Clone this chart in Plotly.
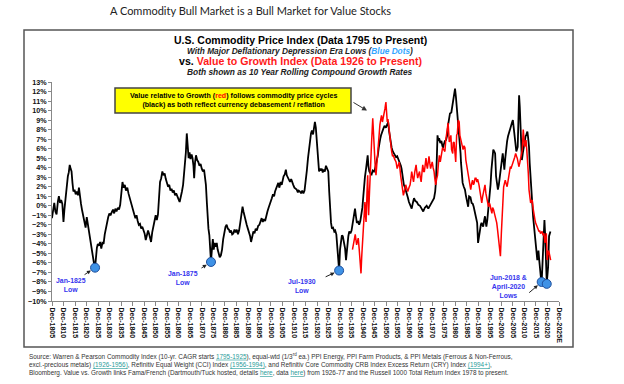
import plotly.graph_objects as go

# ---------------- data ----------------
commodity_years = [
    1805.9, 1806.4, 1806.9, 1807.4, 1807.9, 1808.5, 1808.9, 1809.4, 1809.9, 1810.4, 1810.9, 1811.3, 1811.8,
    1812.3, 1812.8, 1813.2, 1813.6, 1814.0, 1814.4, 1814.8, 1815.2, 1815.7, 1816.2, 1816.7, 1817.2, 1817.6,
    1818.0, 1818.5, 1819.0, 1819.5, 1820.0, 1820.5, 1821.0, 1821.5, 1821.9, 1822.4, 1822.9, 1823.3, 1823.7,
    1824.1, 1824.6, 1825.0, 1825.4, 1825.8, 1826.3, 1826.8, 1827.3, 1827.8, 1828.3, 1828.8, 1829.3, 1829.8,
    1830.3, 1830.8, 1831.3, 1831.8, 1832.4, 1832.9, 1833.4, 1833.9, 1834.5, 1835.0, 1835.5, 1836.0, 1836.5,
    1837.0, 1837.5, 1838.0, 1838.6, 1839.1, 1839.6, 1840.1, 1840.6, 1841.1, 1841.6, 1842.1, 1842.6, 1843.1,
    1843.6, 1844.1, 1844.6, 1845.1, 1845.6, 1846.1, 1846.6, 1847.1, 1847.6, 1848.1, 1848.6, 1848.9, 1849.4,
    1849.9, 1850.4, 1850.9, 1851.4, 1851.9, 1852.4, 1852.8, 1853.3, 1853.8, 1854.3, 1854.8, 1855.3, 1855.8,
    1856.3, 1856.8, 1857.3, 1857.8, 1858.3, 1858.8, 1859.3, 1859.8, 1860.3, 1860.8, 1861.3, 1861.8, 1862.3,
    1862.8, 1863.2, 1863.6, 1864.0, 1864.4, 1864.8, 1865.2, 1865.6, 1866.0, 1866.5, 1866.9, 1867.3, 1867.6,
    1868.0, 1868.4, 1868.9, 1869.4, 1869.9, 1870.4, 1870.9, 1871.4, 1871.9, 1872.3, 1872.7, 1873.1, 1873.4,
    1873.8, 1874.2, 1874.6, 1874.9, 1875.3, 1875.7, 1876.1, 1876.5, 1876.9, 1877.4, 1877.8, 1878.2, 1878.7,
    1879.2, 1879.7, 1880.2, 1880.7, 1881.2, 1881.7, 1882.2, 1882.7, 1883.1, 1883.6, 1884.1, 1884.6, 1885.1,
    1885.6, 1886.1, 1886.6, 1887.1, 1887.6, 1888.1, 1888.6, 1889.0, 1889.4, 1889.9, 1890.4, 1890.9, 1891.4,
    1891.9, 1892.3, 1892.8, 1893.3, 1893.8, 1894.3, 1894.8, 1895.4, 1895.9, 1896.4, 1896.9, 1897.4, 1897.9,
    1898.4, 1898.9, 1899.4, 1899.9, 1900.4, 1900.9, 1901.3, 1901.8, 1902.3, 1902.7, 1903.2, 1903.7, 1904.1,
    1904.6, 1905.1, 1905.6, 1906.0, 1906.4, 1906.9, 1907.4, 1907.8, 1908.2, 1908.7, 1909.2, 1909.7, 1910.2,
    1910.6, 1911.1, 1911.6, 1912.1, 1912.6, 1913.0, 1913.5, 1914.0, 1914.5, 1915.0, 1915.5, 1916.0, 1916.5,
    1917.0, 1917.4, 1917.9, 1918.3, 1918.7, 1919.2, 1919.6, 1920.0, 1920.4, 1920.8, 1921.1, 1921.4, 1921.8,
    1922.2, 1922.6, 1923.0, 1923.4, 1923.8, 1924.3, 1924.8, 1925.3, 1925.8, 1926.2, 1926.6, 1927.0, 1927.4,
    1927.9, 1928.4, 1928.8, 1929.3, 1929.7, 1930.1, 1930.5, 1930.9, 1931.3, 1931.7, 1932.1, 1932.6, 1933.1,
    1933.5, 1934.0, 1934.5, 1934.9, 1935.4, 1935.9, 1936.3, 1936.6, 1937.0, 1937.4, 1937.8, 1938.2, 1938.7,
    1939.2, 1939.7, 1940.2, 1940.6, 1941.0, 1941.3, 1941.7, 1942.2, 1942.6, 1942.9, 1943.2, 1943.6, 1944.1,
    1944.6, 1945.1, 1945.6, 1946.0, 1946.5, 1946.9, 1947.3, 1947.7, 1948.0, 1948.4, 1948.7, 1949.2, 1949.7,
    1950.2, 1950.8, 1951.3, 1951.8, 1952.2, 1952.6, 1953.0, 1953.3, 1953.8, 1954.2, 1954.7, 1955.2, 1955.7,
    1956.2, 1956.6, 1956.9, 1957.3, 1957.6, 1958.1, 1958.6, 1959.1, 1959.5, 1959.8, 1960.3, 1960.8, 1961.4,
    1962.0, 1962.5, 1963.0, 1963.6, 1964.2, 1964.9, 1965.6, 1966.3, 1967.0, 1967.7, 1968.5, 1969.2, 1969.9,
    1970.6, 1971.2, 1971.7, 1972.2, 1972.5, 1972.9, 1973.2, 1973.6, 1973.9, 1974.4, 1974.9, 1975.3, 1975.6,
    1976.0, 1976.4, 1976.9, 1977.4, 1977.8, 1978.2, 1978.6, 1979.2, 1979.8, 1980.3, 1980.8, 1981.2, 1981.5,
    1981.9, 1982.2, 1982.6, 1982.9, 1983.2, 1983.4, 1983.8, 1984.1, 1984.6, 1985.1, 1985.5, 1985.8, 1986.2,
    1986.5, 1986.9, 1987.5, 1988.0, 1988.5, 1988.9, 1989.3, 1989.6, 1990.0, 1990.4, 1990.8, 1991.2, 1991.6,
    1992.0, 1992.3, 1992.7, 1993.0, 1993.4, 1993.8, 1994.1, 1994.4, 1994.8, 1995.1, 1995.5, 1995.8, 1996.2,
    1996.6, 1997.0, 1997.4, 1997.8, 1998.2, 1998.6, 1999.0, 1999.4, 1999.8, 2000.1, 2000.5, 2000.8, 2001.2,
    2001.5, 2001.9, 2002.2, 2002.6, 2003.0, 2003.4, 2003.8, 2004.1, 2004.5, 2004.9, 2005.2, 2005.6, 2005.9,
    2006.2, 2006.5, 2006.9, 2007.4, 2008.0, 2008.3, 2008.6, 2008.9, 2009.2, 2009.5, 2009.8, 2010.2, 2010.6,
    2011.0, 2011.4, 2011.8, 2012.2, 2012.5, 2012.9, 2013.2, 2013.6, 2014.0, 2014.3, 2014.7, 2015.1, 2015.5,
    2015.8, 2016.1, 2016.5, 2016.8, 2017.0, 2017.3, 2017.6, 2018.0, 2018.4, 2018.7, 2019.0, 2019.3, 2019.6,
    2019.9, 2020.2, 2020.4, 2020.6, 2020.9, 2021.2, 2021.6, 2022.0, 2022.2,
]
commodity_cagr = [
    -1.3, -0.4, 0.3, -0.6, -0.9, 0.5, 1.0, 0.3, 0.6, 0.2, -1.7, -0.4, 0.9,
    2.2, 3.1, 3.5, 4.3, 3.9, 3.6, 2.4, 1.5, 1.7, 1.2, 1.5, 1.1, 1.9,
    0.9, 0.2, -0.5, -1.1, -1.8, -2.3, -1.2, -2.0, -2.6, -3.6, -4.3, -5.0, -5.5,
    -6.0, -6.5, -5.2, -4.4, -4.0, -4.2, -3.8, -4.5, -3.9, -4.0, -3.0, -2.3, -1.8,
    -1.2, -0.8, -1.0, -0.7, -0.4, -0.8, -0.3, -0.6, -0.2, -0.4, 0.1, 1.3, 2.5,
    1.9, 2.2, 1.6, 1.9, 1.3, 0.8, 0.3, -0.2, -0.6, -0.9, -1.3, -1.0, -1.6,
    -2.0, -1.9, -2.4, -2.2, -2.6, -2.9, -3.6, -3.0, -2.6, -3.0, -3.5, -3.8, -2.8,
    -2.0, -1.6, -1.0, -1.5, -0.9, 0.6, 2.5, 2.9, 3.6, 3.2, 3.4, 2.8, 2.5,
    2.0, 2.2, 1.6, 1.8, 1.4, 1.6, 1.1, 1.3, 0.9, 0.7, 0.4, 1.2, 1.5,
    2.2, 3.2, 4.4, 5.6, 7.6, 6.2, 5.0, 5.6, 4.9, 5.4, 5.0, 4.2, 2.9,
    4.6, 5.3, 4.8, 4.6, 4.2, 4.4, 3.9, 3.6, 3.8, 3.2, 2.2, 0.4, -1.0,
    -2.4, -3.1, -4.8, -5.9, -4.6, -3.5, -4.6, -3.9, -4.3, -3.9, -4.6, -4.9, -5.4,
    -5.2, -4.6, -3.5, -2.6, -2.2, -2.0, -2.4, -2.5, -2.8, -2.6, -3.0, -2.9, -2.5,
    -2.8, -2.5, -3.0, -2.6, -1.8, -0.9, -0.1, -0.6, -1.1, -1.4, -2.0, -2.4, -2.7,
    -3.2, -3.8, -3.2, -2.7, -2.9, -2.4, -2.6, -2.1, -2.0, -1.6, -1.3, -1.7, -1.4,
    -1.6, -1.0, -0.6, -0.2, 0.1, 0.5, 0.8, 1.2, 1.0, 1.5, 1.9, 2.3, 2.4,
    1.9, 2.5, 2.2, 2.7, 3.1, 3.3, 3.8, 3.2, 3.0, 2.7, 2.5, 2.8, 2.3,
    2.2, 1.9, 1.8, 1.7, 1.4, 1.6, 1.5, 1.3, 1.6, 1.3, 1.6, 2.4, 3.7,
    5.0, 6.1, 6.8, 7.6, 7.9, 7.5, 8.2, 8.8, 8.2, 6.9, 5.0, 3.9, 3.6,
    3.9, 3.7, 3.9, 3.5, 3.8, 3.6, 4.2, 3.9, 3.6, 1.5, -0.6, -1.8, -2.4,
    -2.3, -2.7, -2.6, -3.0, -4.2, -5.3, -6.8, -4.6, -3.4, -3.1, -3.2, -3.8, -4.5,
    -5.7, -4.1, -3.2, -2.7, -2.9, -2.6, -2.0, -1.7, -0.9, -0.3, -1.1, -1.8, -1.6,
    -2.0, -1.6, -1.0, -0.2, 1.0, 2.2, 3.0, 3.9, 4.6, 5.3, 4.2, 3.6, 3.4,
    3.3, 3.7, 3.6, 3.8, 4.3, 4.8, 5.3, 6.1, 6.7, 7.1, 7.4, 7.9, 8.1,
    8.4, 8.2, 8.5, 8.8, 7.8, 7.1, 6.4, 6.1, 5.7, 5.5, 5.3, 5.1, 5.2,
    4.9, 4.7, 4.6, 4.2, 3.9, 3.0, 2.2, 1.9, 1.6, 1.5, 0.9, 0.4, 0.0,
    -0.3, 0.3, 0.8, 0.5, 0.4, 0.1, 0.0, -0.3, -0.6, -0.2, 0.0, -0.3, 0.0,
    0.4, 0.6, 0.8, 1.5, 2.5, 5.0, 7.4, 6.8, 7.1, 6.6, 6.8, 6.3, 6.1,
    6.5, 6.8, 6.9, 7.4, 8.5, 9.2, 9.7, 9.8, 10.8, 11.3, 12.3, 11.4, 10.6,
    9.6, 8.7, 7.5, 6.6, 5.5, 4.5, 3.3, 2.4, 2.0, 1.7, 1.1, 0.6, 0.2,
    -0.1, 1.0, 0.9, 0.3, 0.2, -0.1, -0.5, -0.8, -1.2, -1.8, -3.9, -3.1, -2.5,
    -2.0, -1.8, -2.0, -2.2, -1.6, -1.1, -1.7, -2.2, -1.5, -0.8, -0.2, 0.6, 2.2,
    3.8, 4.9, 5.9, 5.7, 5.5, 3.1, 2.3, 1.7, 2.2, 2.8, 3.4, 4.1, 4.9,
    5.5, 4.6, 3.8, 5.0, 6.2, 6.8, 7.3, 7.6, 8.0, 8.4, 8.7, 8.8, 9.0,
    8.4, 7.7, 6.8, 5.7, 6.2, 8.5, 11.6, 10.4, 9.0, 6.8, 4.8, 5.5, 6.2,
    6.8, 7.3, 7.5, 7.8, 7.2, 6.2, 4.5, 2.7, 1.2, -0.1, -1.2, -2.2, -3.2,
    -4.3, -5.0, -5.7, -5.2, -4.7, -5.6, -6.75, -7.4, -8.0, -6.6, -5.0, -3.0, -1.5,
    -3.0, -5.0, -6.8, -8.1, -7.3, -6.4, -3.2, -2.9, -2.7,
]

value_growth_years = [
    1936.3, 1936.9, 1937.5, 1938.1, 1938.8, 1939.2, 1939.6, 1940.0, 1940.3, 1940.6, 1941.0, 1941.4, 1941.7,
    1942.0, 1942.2, 1942.6, 1942.9, 1943.1, 1943.3, 1943.6, 1943.8, 1944.2, 1944.6, 1945.1, 1945.4, 1945.8,
    1946.1, 1946.5, 1947.0, 1947.5, 1947.9, 1948.2, 1948.6, 1948.9, 1949.3, 1949.7, 1950.1, 1950.4, 1950.8,
    1951.1, 1951.4, 1951.7, 1952.0, 1952.3, 1952.6, 1953.0, 1953.3, 1953.7, 1954.0, 1954.6, 1955.2, 1955.7,
    1956.1, 1956.6, 1957.2, 1957.8, 1958.1, 1958.4, 1958.9, 1959.4, 1959.9, 1960.3, 1960.8, 1961.3, 1961.7,
    1962.0, 1962.4, 1962.8, 1963.3, 1963.9, 1964.3, 1964.6, 1965.0, 1965.4, 1965.7, 1966.1, 1966.5, 1966.8,
    1967.2, 1967.5, 1967.9, 1968.2, 1968.5, 1968.8, 1969.2, 1969.5, 1969.9, 1970.2, 1970.6, 1970.9, 1971.3,
    1971.7, 1972.0, 1972.4, 1972.8, 1973.2, 1973.6, 1974.0, 1974.4, 1974.7, 1975.1, 1975.4, 1975.9, 1976.4,
    1976.8, 1977.1, 1977.4, 1977.8, 1978.3, 1978.6, 1979.0, 1979.3, 1979.8, 1980.0, 1980.4, 1980.8, 1981.1,
    1981.5, 1981.8, 1982.2, 1982.6, 1982.9, 1983.3, 1983.6, 1984.0, 1984.3, 1984.7, 1985.1, 1985.5, 1986.1,
    1986.5, 1986.9, 1987.2, 1987.6, 1988.0, 1988.4, 1988.8, 1989.1, 1989.5, 1989.9, 1990.3, 1990.6, 1991.2,
    1991.6, 1992.0, 1992.4, 1992.8, 1993.1, 1993.5, 1993.8, 1994.2, 1994.6, 1995.0, 1995.3, 1995.7, 1996.0,
    1996.4, 1996.8, 1997.1, 1997.5, 1997.9, 1998.2, 1998.6, 1998.9, 1999.2, 1999.4, 1999.8, 2000.1, 2000.5,
    2000.9, 2001.3, 2001.6, 2001.9, 2002.3, 2002.6, 2003.0, 2003.4, 2003.8, 2004.1, 2004.5, 2004.8, 2005.2,
    2005.6, 2006.0, 2006.3, 2006.7, 2007.1, 2007.5, 2007.8, 2008.2, 2008.5, 2008.9, 2009.2, 2009.6, 2010.0,
    2010.4, 2010.7, 2011.0, 2011.3, 2011.6, 2011.9, 2012.2, 2012.6, 2012.9, 2013.2, 2013.6, 2013.9, 2014.3,
    2014.7, 2015.1, 2015.5, 2015.8, 2016.2, 2016.5, 2016.9, 2017.2, 2017.5, 2017.9, 2018.2, 2018.6, 2019.0,
    2019.4, 2019.8, 2020.1, 2020.4, 2020.6, 2020.8, 2021.1, 2021.4, 2021.7, 2021.9, 2022.3,
]
value_growth_cagr = [
    -4.6, -3.8, -3.0, -4.1, -3.4, -4.5, -5.9, -7.1, -5.4, -3.9, -2.0, -0.6, 0.4,
    -1.2, -1.7, 1.4, 3.2, 0.8, -1.0, 0.9, 2.5, 4.6, 6.7, 9.2, 7.2, 5.5,
    4.4, 3.2, 4.9, 6.7, 7.5, 8.5, 9.1, 9.5, 8.8, 9.2, 9.6, 10.2, 10.9,
    9.8, 8.8, 9.1, 8.5, 7.6, 6.7, 6.0, 5.7, 5.2, 5.3, 4.9, 4.6, 3.9,
    4.3, 4.6, 3.2, 2.2, 1.6, 1.1, 1.6, 2.2, 1.8, 1.5, 1.9, 2.2, 2.9,
    3.6, 3.0, 2.5, 3.5, 4.3, 3.4, 2.9, 3.3, 3.6, 3.0, 2.5, 3.6, 4.3,
    3.6, 3.6, 4.4, 5.0, 4.3, 3.9, 4.6, 5.2, 4.4, 3.9, 4.3, 4.6, 4.0,
    3.6, 2.9, 2.2, 2.8, 3.2, 4.4, 5.3, 4.6, 5.0, 5.6, 6.1, 5.9, 5.7,
    6.9, 7.4, 8.1, 8.7, 6.7, 6.9, 7.4, 5.9, 5.5, 6.6, 6.7, 4.8, 4.6,
    7.4, 7.6, 9.0, 8.8, 7.4, 7.0, 6.9, 6.3, 5.9, 6.3, 6.1, 4.8, 3.8,
    3.2, 2.7, 2.2, 1.7, 2.3, 2.7, 2.2, 2.4, 2.9, 2.9, 2.5, 2.8, 2.2,
    1.5, 0.8, 0.3, 1.0, 1.5, 1.9, 2.2, 1.3, 0.6, 0.2, -0.1, 0.3, 0.1,
    -0.4, -0.8, -0.2, -0.4, -0.8, -1.1, -1.4, -1.8, -2.4, -2.9, -3.6, -4.3, -5.3,
    -2.9, -0.1, 1.0, 2.0, 2.4, 2.7, 2.3, 2.0, 2.6, 3.1, 3.6, 4.1, 4.0,
    4.4, 4.5, 4.8, 5.1, 5.5, 5.2, 5.0, 4.5, 4.1, 4.5, 4.8, 5.3, 5.9,
    8.0, 7.0, 6.2, 6.5, 6.9, 6.0, 5.2, 3.4, 1.7, 1.0, 0.3, 0.5, 0.6,
    -0.3, -1.1, -1.5, -1.8, -2.0, -2.2, -2.5, -2.7, -2.6, -2.9, -2.8, -2.7, -3.1,
    -2.9, -3.9, -3.2, -2.9, -4.2, -5.7, -5.1, -4.7, -5.0, -5.3, -5.7,
]

low_years = [1824.6, 1874.9, 1930.5, 2018.4, 2020.6]
low_values = [-6.5, -5.9, -6.8, -8.0, -8.2]

tick_years = list(range(1805, 2030, 5))
tick_labels = ["Dec-%d" % y for y in tick_years[:-1]] + ["Dec-2025E"]
tick_positions = [y + 11 / 12 for y in tick_years]

# ---------------- layout helpers ----------------
W, H = 624, 384
L, R, T, B = 52, 65, 82, 83
PW, PH = W - L - R, H - T - B


def px(x):
    return (x - L) / PW


def py(y):
    return (H - B - y) / PH


FONT = "Arial, Liberation Sans, sans-serif"
BLUE_TXT = "#3535ee"

fig = go.Figure()
fig.add_trace(go.Scatter(x=commodity_years, y=commodity_cagr, mode="lines",
                         line=dict(color="#000000", width=1.8), showlegend=False))
fig.add_trace(go.Scatter(x=value_growth_years, y=value_growth_cagr, mode="lines",
                         line=dict(color="#ff0000", width=1.5), showlegend=False))
fig.add_trace(go.Scatter(x=low_years, y=low_values, mode="markers",
                         marker=dict(size=9, color="#3f92e6", line=dict(color="#1f4f9c", width=1)),
                         showlegend=False))

ann = []


def text_ann(xpix, ypix, text, size, color="#000000", family=FONT, xanchor="center"):
    ann.append(dict(x=px(xpix), y=py(ypix), xref="paper", yref="paper", showarrow=False,
                    xanchor=xanchor, yanchor="middle", text=text,
                    font=dict(family=family, size=size, color=color)))


# main title
text_ann(250, 11, "A Commodity Bull Market is a Bull Market for Value Stocks", 11, "#222222",
         family="Lato, Open Sans, sans-serif")
# chart sub titles
text_ann(300, 40.5, "<b>U.S. Commodity Price Index (Data 1795 to Present)</b>", 10.5)
text_ann(300, 51, "<b><i>With Major Deflationary Depression Era Lows (<span style='color:#33a6ff'>Blue Dots</span>)</i></b>",
         8.3, "#222222")
text_ann(300, 61.5, "<b>vs. <span style='color:#ff1a1a'>Value to Growth Index (Data 1926 to Present)</span></b>", 10.6)
text_ann(300, 72, "<b><i>Both shown as 10 Year Rolling Compound Growth Rates</i></b>", 8.4, "#222222")
# yellow box text
text_ann(233, 100.5,
         "<b>Value relative to Growth (<span style='color:#ff0000'>red</span>) follows commodity price cycles<br>(black) as both reflect currency debasement / reflation</b>",
         7.1)
# arrow from yellow box
ann.append(dict(x=1942.6, y=10.0, xref="x", yref="y", text="", showarrow=True,
                ax=-15, ay=-9, arrowhead=2, arrowsize=1, arrowwidth=1, arrowcolor="#333333"))
# low labels
low_texts = ["<b>Jan-1825<br>Low</b>", "<b>Jan-1875<br>Low</b>", "<b>Jul-1930<br>Low</b>",
             "<b>Jun-2018 &<br>April-2020<br>Lows</b>"]
text_pos = [(71, 285), (183, 278), (302, 286), (508, 286)]
for t, (tx, ty) in zip(low_texts, text_pos):
    text_ann(tx, ty, t, 6.9, BLUE_TXT)
arrow_off = [(-12, 8), (-11, 7), (-15, 7), (-14, 12)]
for i, (ax, ay) in zip([0, 1, 2, 3], arrow_off):
    ann.append(dict(x=low_years[i], y=low_values[i], xref="x", yref="y", text="", showarrow=True,
                    ax=ax, ay=ay, standoff=5, arrowhead=2, arrowsize=0.8, arrowwidth=1,
                    arrowcolor="#222222"))
# source text
link = "<span style='color:#2a9d9a'><u>%s</u></span>"
src_lines = [
    "Source: Warren & Pearson Commodity Index (10-yr. CAGR starts " + link % "1795-1925" +
    "), equal-wtd (1/3<sup>rd</sup> ea.) PPI Energy, PPI Farm Products, & PPI Metals (Ferrous & Non-Ferrous,",
    "excl.-precious metals) " + link % "(1926-1956)" + ", Refinitiv Equal Weight (CCI) Index " + link % "(1956-1994)" +
    ", and Refinitiv Core Commodity CRB Index Excess Return (CRY) Index " + link % "(1994+)" + ",",
    "Bloomberg. Value vs. Growth links Fama/French (Dartmouth/Tuck hosted, details " + link % "here" +
    ", data " + link % "here" + ") from 1926-77 and the Russell 1000 Total Return Index 1978 to present.",
]
for i, s in enumerate(src_lines):
    text_ann(27, 356 + 8.5 * i, s, 6.4, "#333333", xanchor="left")

shapes = [
    dict(type="rect", xref="paper", yref="paper", x0=px(24), x1=px(573), y0=py(347), y1=py(30),
         line=dict(color="#555555", width=1.5), fillcolor="rgba(0,0,0,0)", layer="below"),
    dict(type="rect", xref="paper", yref="paper", x0=px(115), x1=px(351), y0=py(113), y1=py(88),
         line=dict(color="#444444", width=1.5), fillcolor="#ffff00", layer="below"),
]

fig.update_layout(
    width=W, height=H, margin=dict(l=L, r=R, t=T, b=B),
    paper_bgcolor="white", plot_bgcolor="rgba(0,0,0,0)",
    annotations=ann, shapes=shapes,
    xaxis=dict(range=[tick_positions[0], tick_positions[-1]], tickmode="array",
               tickvals=tick_positions, ticktext=tick_labels, tickangle=90,
               showgrid=False, zeroline=False, showline=True, linecolor="#888888", linewidth=1,
               ticks="outside", ticklen=4, tickcolor="#888888",
               tickfont=dict(family=FONT, size=7, color="#111111", weight="bold")),
    yaxis=dict(range=[-10, 13], dtick=1, ticksuffix="%", showgrid=False, zeroline=False,
               showline=True, linecolor="#888888", linewidth=1, ticks="outside", ticklen=3,
               tickcolor="#888888",
               tickfont=dict(family=FONT, size=7.2, color="#111111", weight="bold")),
)

fig.write_html("out.html", config={"displayModeBar": False},
               post_script="document.body.style.margin='0';")
